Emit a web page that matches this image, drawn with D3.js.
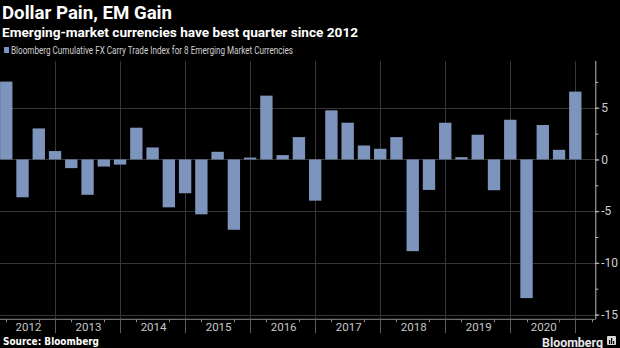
<!DOCTYPE html>
<html>
<head>
<meta charset="utf-8">
<script src="https://cdn.jsdelivr.net/npm/d3@7"></script>
<style>
  html, body { margin: 0; padding: 0; background: #000; }
  svg { display: block; }
</style>
</head>
<body>
<svg id="chart" width="620" height="348"></svg>
<script>
// ---- data ----
const categories = [
  "Q1 2012","Q2 2012","Q3 2012","Q4 2012",
  "Q1 2013","Q2 2013","Q3 2013","Q4 2013",
  "Q1 2014","Q2 2014","Q3 2014","Q4 2014",
  "Q1 2015","Q2 2015","Q3 2015","Q4 2015",
  "Q1 2016","Q2 2016","Q3 2016","Q4 2016",
  "Q1 2017","Q2 2017","Q3 2017","Q4 2017",
  "Q1 2018","Q2 2018","Q3 2018","Q4 2018",
  "Q1 2019","Q2 2019","Q3 2019","Q4 2019",
  "Q1 2020","Q2 2020","Q3 2020","Q4 2020"
];
const values = [
  7.53, -3.66, 3.00, 0.81,
  -0.84, -3.42, -0.69, -0.50,
  3.07, 1.16, -4.63, -3.27,
  -5.31, 0.74, -6.80, 0.18,
  6.17, 0.42, 2.16, -3.99,
  4.75, 3.55, 1.35, 1.03,
  2.16, -8.87, -2.95, 3.55,
  0.22, 2.39, -2.98, 3.84,
  -13.41, 3.33, 0.93, 6.56
];
const yearLabels = ["2012","2013","2014","2015","2016","2017","2018","2019","2020"];
const yTickValues = [5, 0, -5, -10, -15];
const yMinorTickValues = [7.5, 5, 2.5, 0, -2.5, -5, -7.5, -10, -12.5, -15];

const title = "Dollar Pain, EM Gain";
const subtitle = "Emerging-market currencies have best quarter since 2012";
const legendLabel = "Bloomberg Cumulative FX Carry Trade Index for 8 Emerging Market Currencies";
const sourceLabel = "Source: Bloomberg";

// ---- layout ----
const plotLeft = 0, plotRight = 595.3, plotTop = 61, plotBottom = 319.3;
const barColor = "#7d94bc";
const gridColor = "#363636";
const font = "Roboto, 'Open Sans', 'DejaVu Sans', sans-serif";

const svg = d3.select("#chart");
svg.append("rect").attr("width", 620).attr("height", 348).attr("fill", "#000");

// quarter-end position in fractional years
const qTime = c => {
  const [q, yr] = c.split(" ");
  return +yr + (+q.slice(1)) / 4;
};

const x = d3.scaleLinear().domain([2012, 2021]).range([-10, 575.3]);
const y = d3.scaleLinear().domain([-15.46, 9.52]).range([plotBottom, plotTop]);
const barW = x(2012.19) - x(2012);

svg.append("clipPath").attr("id", "plotclip")
  .append("rect").attr("x", plotLeft).attr("y", 0).attr("width", plotRight - plotLeft).attr("height", 348);

// horizontal grid
svg.append("g").selectAll("line").data(yTickValues).join("line")
  .attr("x1", plotLeft).attr("x2", plotRight)
  .attr("y1", d => Math.round(y(d)) + 0.5).attr("y2", d => Math.round(y(d)) + 0.5)
  .attr("stroke", gridColor).attr("stroke-width", 1);

// vertical grid at year boundaries
const yearBounds = d3.range(2013, 2022);
svg.append("g").selectAll("line").data(yearBounds).join("line")
  .attr("x1", d => Math.round(x(d)) + 0.5).attr("x2", d => Math.round(x(d)) + 0.5)
  .attr("y1", plotTop).attr("y2", plotBottom)
  .attr("stroke", gridColor).attr("stroke-width", 1);

// bars
svg.append("g").attr("clip-path", "url(#plotclip)")
  .selectAll("rect").data(categories.map((c, i) => ({c, v: values[i]}))).join("rect")
  .attr("x", d => x(qTime(d.c)) - barW / 2)
  .attr("width", barW)
  .attr("y", d => y(Math.max(0, d.v)))
  .attr("height", d => Math.abs(y(d.v) - y(0)))
  .attr("fill", barColor);

// bottom axis line
svg.append("line")
  .attr("x1", plotLeft).attr("x2", plotRight)
  .attr("y1", plotBottom).attr("y2", plotBottom)
  .attr("stroke", "#8a8a8a").attr("stroke-width", 1);

// year boundary ticks below axis
svg.append("g").selectAll("line").data(yearBounds).join("line")
  .attr("x1", d => Math.round(x(d)) + 0.5).attr("x2", d => Math.round(x(d)) + 0.5)
  .attr("y1", plotBottom).attr("y2", plotBottom + 14)
  .attr("stroke", "#5a5a5a").attr("stroke-width", 1);

// minor quarter ticks (Q1 and Q3 ends; mid-year ones sit under the labels)
const minorQ = [];
for (let yr = 2012; yr <= 2021; yr++) { minorQ.push(yr + 0.25, yr + 0.75); }
svg.append("g").selectAll("line").data(minorQ.filter(t => x(t) > 0 && x(t) < plotRight)).join("line")
  .attr("x1", d => Math.round(x(d)) + 0.5).attr("x2", d => Math.round(x(d)) + 0.5)
  .attr("y1", plotBottom).attr("y2", plotBottom + 3)
  .attr("stroke", "#8a8a8a").attr("stroke-width", 1);

// year labels, centred in the visible part of each year
svg.append("g").selectAll("text").data(yearLabels).join("text")
  .attr("x", d => {
    const a = Math.max(plotLeft, x(+d)), b = Math.min(plotRight, x(+d + 1));
    return (a + b) / 2 + 1;
  })
  .attr("y", 330.5)
  .attr("text-anchor", "middle")
  .attr("font-family", font)
  .attr("font-size", 11.5)
  .attr("fill", "#c8c8c8")
  .text(d => d);

// right axis
const yAxisMinor = d3.axisRight(y).tickValues(yMinorTickValues).tickSize(3).tickFormat("");
const gMinor = svg.append("g").attr("transform", `translate(${plotRight},0)`).call(yAxisMinor);
gMinor.select(".domain").remove();
gMinor.selectAll("line").attr("stroke", "#bbbbbb");

const yAxis = d3.axisRight(y).tickValues(yTickValues).tickSize(4).tickPadding(2)
  .tickFormat(d => String(d));
const gAx = svg.append("g").attr("transform", `translate(${plotRight},0)`).call(yAxis);
gAx.select(".domain").remove();
gAx.selectAll("line").attr("stroke", "#bbbbbb");
gAx.selectAll("text")
  .attr("font-family", font)
  .attr("font-size", 12)
  .attr("fill", "#d0d0d0");

svg.append("line")
  .attr("x1", plotRight + 0.5).attr("x2", plotRight + 0.5)
  .attr("y1", plotTop).attr("y2", plotBottom)
  .attr("stroke", "#bbbbbb").attr("stroke-width", 1);

// titles
const fitText = (sel, w) => sel.attr("textLength", w).attr("lengthAdjust", "spacingAndGlyphs");
fitText(svg.append("text").attr("x", 2).attr("y", 19)
  .attr("font-family", font)
  .attr("font-weight", "bold").attr("font-size", 18).attr("fill", "#ffffff")
  .text(title), 170);
fitText(svg.append("text").attr("x", 2).attr("y", 36.5)
  .attr("font-family", font)
  .attr("font-weight", "bold").attr("font-size", 13.5).attr("fill", "#ffffff")
  .text(subtitle), 356);

// legend
svg.append("rect").attr("x", 4).attr("y", 47).attr("width", 5).attr("height", 6).attr("fill", barColor);
fitText(svg.append("text").attr("x", 11).attr("y", 54)
  .attr("font-family", font)
  .attr("font-size", 10.5).attr("fill", "#d0d0d0")
  .text(legendLabel), 282);

// source
fitText(svg.append("text").attr("x", 3).attr("y", 344.5)
  .attr("font-family", "'DejaVu Sans', sans-serif")
  .attr("font-weight", "bold").attr("font-size", 10.5).attr("fill", "#ffffff")
  .text(sourceLabel), 96);

// Bloomberg wordmark
fitText(svg.append("text").attr("x", 542).attr("y", 346.5)
  .attr("font-family", font)
  .attr("font-weight", "bold").attr("font-size", 13).attr("fill", "#e8e8e8")
  .text("Bloomberg"), 61);
const icon = svg.append("g").attr("transform", "translate(607,336)");
icon.append("rect").attr("width", 9).attr("height", 9).attr("rx", 1).attr("fill", "#d8d8d8");
icon.append("rect").attr("x", 2).attr("y", 4).attr("width", 1.2).attr("height", 4).attr("fill", "#000");
icon.append("rect").attr("x", 4).attr("y", 2).attr("width", 1.2).attr("height", 6).attr("fill", "#000");
icon.append("rect").attr("x", 6).attr("y", 5).attr("width", 1.2).attr("height", 3).attr("fill", "#000");
</script>
</body>
</html>
